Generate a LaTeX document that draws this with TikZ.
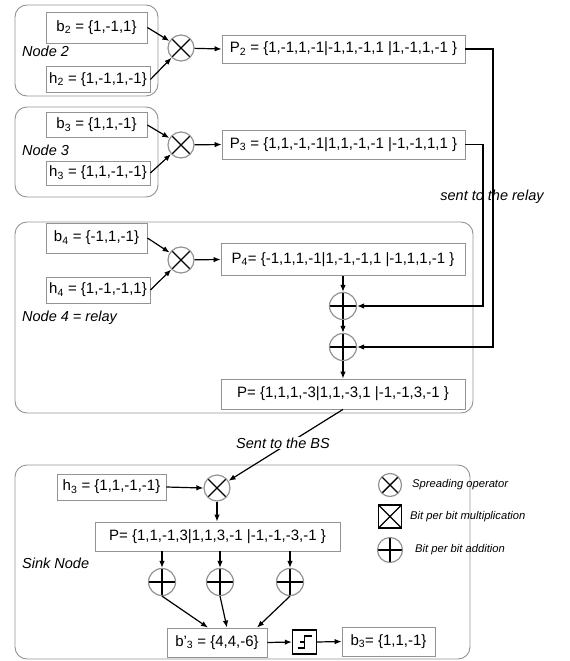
\documentclass[tikz,border=0pt]{standalone}
\usepackage{fontspec}
\setmainfont{Liberation Sans}
\usetikzlibrary{arrows.meta}
\begin{document}
\begin{tikzpicture}[x=1pt,y=-1pt,
  font=\fontsize{15}{17}\selectfont,
  box/.style={draw=gray!85, line width=0.8pt, fill=white, inner sep=0pt, align=center},
  cont/.style={draw=gray!85, line width=0.9pt, rounded corners=12pt, inner sep=0pt},
  arr/.style={line width=1.2pt, -{Latex[length=7pt,width=5.5pt]}},
  ln/.style={line width=1.2pt},
  mul/.style={circle, draw=gray!85, line width=1.2pt, fill=white, minimum size=26pt, inner sep=0pt,
    path picture={\draw[black,line width=1.4pt]
      (path picture bounding box.north west)--(path picture bounding box.south east)
      (path picture bounding box.north east)--(path picture bounding box.south west);}},
  add/.style={circle, draw=gray!85, line width=1.2pt, fill=white, minimum size=27pt, inner sep=0pt,
    path picture={\draw[black,line width=1.4pt]
      (path picture bounding box.north)--(path picture bounding box.south)
      (path picture bounding box.west)--(path picture bounding box.east);}},
  lbl/.style={font=\fontsize{14.5}{16}\selectfont\itshape, inner sep=0pt},
  leg/.style={font=\fontsize{11.2}{13}\selectfont\itshape, inner sep=0pt, anchor=west},
]
\useasboundingbox (0,0) rectangle (570,661);

% ---------- Node 2 ----------
\node[cont, minimum width=143pt, minimum height=91pt] (c2) at (86.5,50.5) {};
\node[box, minimum width=101pt, minimum height=31pt] (b2) at (96.5,27.5) {b\textsubscript{2} = \{1,-1,1\}};
\node[box, minimum width=104pt, minimum height=26pt] (h2) at (98,79.5) {h\textsubscript{2} = \{1,-1,1,-1\}};
\node[lbl, anchor=west] (l2) at (22,51) {Node 2};
\node[mul] (m2) at (181,48) {};
\node[box, minimum width=243pt, minimum height=28pt] (P2) at (343.5,49) {P\textsubscript{2} = \{1,-1,1,-1|-1,1,-1,1 |1,-1,1,-1 \}};

% ---------- Node 3 ----------
\node[cont, minimum width=143pt, minimum height=90pt] (c3) at (86.5,152) {};
\node[box, minimum width=101pt, minimum height=25pt] (b3) at (96.5,125) {b\textsubscript{3} = \{1,1,-1\}};
\node[box, minimum width=104pt, minimum height=24pt] (h3) at (98,173) {h\textsubscript{3} = \{1,1,-1,-1\}};
\node[lbl, anchor=west] (l3) at (22,150) {Node 3};
\node[mul] (m3) at (181,145) {};
\node[box, minimum width=243pt, minimum height=29pt] (P3) at (343.5,144.5) {P\textsubscript{3} = \{1,1,-1,-1|1,1,-1,-1 |-1,-1,1,1 \}};

% ---------- Node 4 (relay) ----------
\node[cont, minimum width=458pt, minimum height=191pt] (c4) at (244,317.5) {};
\node[box, minimum width=101pt, minimum height=30pt] (b4) at (96.5,238) {b\textsubscript{4} = \{-1,1,-1\}};
\node[box, minimum width=104pt, minimum height=26pt] (h4) at (98,290) {h\textsubscript{4} = \{1,-1,-1,1\}};
\node[lbl, anchor=west] (l4) at (22,318) {Node 4 = relay};
\node[mul] (m4) at (181,260) {};
\node[box, minimum width=244pt, minimum height=32pt] (P4) at (343,259.5) {P\textsubscript{4}= \{-1,1,1,-1|1,-1,-1,1 |-1,1,1,-1 \}};
\node[add] (a1) at (343,306) {};
\node[add] (a2) at (343,347) {};
\node[box, minimum width=244pt, minimum height=30pt] (P) at (343,394) {P= \{1,1,1,-3|1,1,-3,1 |-1,-1,3,-1 \}};
\node[lbl] (relay) at (492,197) {sent to the relay};
\coordinate (r2) at (493,49);
\coordinate (r3) at (483,144.5);

% ---------- Sink ----------
\node[cont, minimum width=455pt, minimum height=194pt] (cs) at (242.5,562) {};
\node[box, minimum width=109pt, minimum height=26pt] (h3s) at (111.5,487) {h\textsubscript{3} = \{1,1,-1,-1\}};
\node[mul] (ms) at (217,488) {};
\node[box, minimum width=245pt, minimum height=29pt] (Ps) at (217.5,536.5) {P= \{1,1,-1,3|1,1,3,-1 |-1,-1,-3,-1 \}};
\node[lbl, anchor=west] (ls) at (22,563) {Sink Node};
\node[add] (s1) at (162,582) {};
\node[add] (s2) at (220,582) {};
\node[add] (s3) at (290,582) {};
\node[box, minimum width=100pt, minimum height=29pt] (bp) at (217,642.5) {b'\textsubscript{3} = \{4,4,-6\}};
\node[draw=black, line width=1.4pt, minimum size=24pt, inner sep=0pt] (thr) at (304.5,642) {};
\draw[line width=1.1pt] ([xshift=-7pt,yshift=-6pt]thr.center) -- ([yshift=-6pt]thr.center) -- ([yshift=6pt]thr.center) -- ([xshift=7pt,yshift=6pt]thr.center)
  ([xshift=-5pt]thr.center) -- (thr.center);
\node[box, minimum width=93pt, minimum height=29pt] (b3o) at (388.5,641.5) {b\textsubscript{3}= \{1,1,-1\}};

% ---------- Legend ----------
\node[mul, minimum size=23pt] (lm) at (390,485) {};
\node[draw=black, line width=1.4pt, minimum size=23pt, inner sep=0pt,
  path picture={\draw[black,line width=1.3pt]
      (path picture bounding box.north west)--(path picture bounding box.south east)
      (path picture bounding box.north east)--(path picture bounding box.south west);}] (lx) at (390,516.5) {};
\node[add, minimum size=25pt] (la) at (390,550) {};
\node[leg] (t1) at (412,485) {Spreading operator};
\node[leg] (t2) at (410,516.5) {Bit per bit multiplication};
\node[leg] (t3) at (415,550) {Bit per bit addition};

% ---------- Connectors ----------
\draw[arr] (b2.east) -- (m2);
\draw[arr] (h2.east) -- (m2);
\draw[arr] (m2) -- (P2.west);
\draw[arr] (b3.east) -- (m3);
\draw[arr] (h3.east) -- (m3);
\draw[arr] (m3) -- (P3.west);
\draw[arr] (b4.east) -- (m4);
\draw[arr] (h4.east) -- (m4);
\draw[arr] (m4) -- (P4.west);
\draw[arr] (P4.south) -- (a1.north);
\draw[arr] (a1.south) -- (a2.north);
\draw[arr] (a2.south) -- (P.north);
\draw[arr] (P2.east) -- (r2) |- (a2.east);
\draw[arr] (P3.east) -- (r3) |- (a1.east);

\draw[arr] (P.south) -- (ms);
\node[lbl, fill=white, inner sep=1pt, font=\fontsize{14.5}{16}\selectfont\itshape] (bs) at (283,443) {Sent to the BS};
\draw[arr] (h3s.east) -- (ms.west);
\draw[arr] (ms.south) -- (ms.south |- Ps.north);
\draw[arr] (s1 |- Ps.south) -- (s1.north);
\draw[arr] (s2 |- Ps.south) -- (s2.north);
\draw[arr] (s3 |- Ps.south) -- (s3.north);
\draw[arr] (s1.south) -- ([xshift=-9pt]bp.north);
\draw[arr] (s2.south) -- ([xshift=10pt]bp.north);
\draw[arr] (s3.south) -- ([xshift=40pt]bp.north);
\draw[arr] (bp.east) -- (thr.west);
\draw[arr] (thr.east) -- (b3o.west);
\end{tikzpicture}
\end{document}
